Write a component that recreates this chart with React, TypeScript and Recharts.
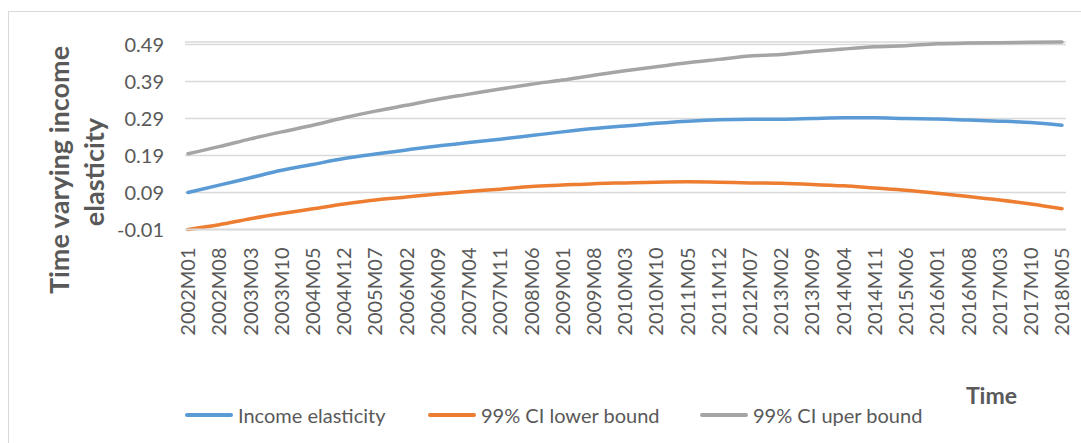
import React from 'react';
import { LineChart, Line, XAxis, YAxis, CartesianGrid, Legend } from 'recharts';

const months = ['2002M01','2002M08','2003M03','2003M10','2004M05','2004M12','2005M07','2006M02','2006M09','2007M04','2007M11','2008M06','2009M01','2009M08','2010M03','2010M10','2011M05','2011M12','2012M07','2013M02','2013M09','2014M04','2014M11','2015M06','2016M01','2016M08','2017M03','2017M10','2018M05'];

const incomeElasticity = [0.090,0.110,0.130,0.150,0.166,0.182,0.194,0.205,0.216,0.225,0.234,0.244,0.254,0.263,0.270,0.277,0.283,0.287,0.288,0.288,0.290,0.292,0.292,0.290,0.289,0.286,0.283,0.279,0.272];
const lowerBound = [-0.010,0.003,0.019,0.033,0.046,0.059,0.070,0.078,0.086,0.093,0.099,0.106,0.110,0.114,0.116,0.118,0.119,0.118,0.116,0.115,0.112,0.108,0.102,0.096,0.088,0.079,0.070,0.059,0.046];
const upperBound = [0.195,0.214,0.235,0.254,0.272,0.292,0.310,0.326,0.342,0.356,0.370,0.383,0.394,0.407,0.419,0.430,0.441,0.450,0.459,0.463,0.471,0.478,0.484,0.487,0.492,0.494,0.495,0.496,0.497];

const yTicks = [-0.01, 0.09, 0.19, 0.29, 0.39, 0.49];

const seriesNames = ['Income elasticity', '99% CI lower bound', '99% CI uper bound'];
const seriesColors = ['#5b9bd5', '#ed7d31', '#a5a5a5'];

const yTitleLines = ['Time varying income', 'elasticity'];
const xTitle = 'Time';

const data = months.map((m, i) => ({
  month: m,
  income: incomeElasticity[i],
  lower: lowerBound[i],
  upper: upperBound[i],
}));

const FONT = 'Lato, "Noto Sans", sans-serif';
const TEXT = '#595959';

const XTick = (props: any) => {
  const { x, y, payload } = props;
  return (
    <text
      x={x}
      y={y + 10}
      transform={`rotate(-90, ${x}, ${y + 10})`}
      textAnchor="end"
      dy="0.36em"
      fill={TEXT}
      fontSize={20}
      fontFamily={FONT}
    >
      {payload.value}
    </text>
  );
};

const legendLefts = [185, 428, 700];

const renderLegend = (props: any) => {
  const payload = [...(props.payload || [])].sort(
    (a: any, b: any) => seriesNames.indexOf(a.value) - seriesNames.indexOf(b.value)
  );
  return (
    <div style={{ position: 'relative', width: 1081, height: 443 }}>
      {payload.map((p: any, i: number) => (
        <div
          key={p.value}
          style={{
            position: 'absolute',
            left: legendLefts[i],
            top: 402,
            height: 26,
            display: 'flex',
            alignItems: 'center',
            fontFamily: FONT,
            fontSize: 20,
            color: TEXT,
            whiteSpace: 'nowrap',
          }}
        >
          <span
            style={{
              display: 'inline-block',
              width: 48,
              height: 4,
              borderRadius: 2,
              background: p.color,
              marginRight: 5,
            }}
          />
          <span>{p.value}</span>
        </div>
      ))}
    </div>
  );
};

export default function App() {
  return (
    <div style={{ position: 'relative', width: 1081, height: 443, overflow: 'hidden', background: '#fff' }}>
      <style>{`body{margin:0;overflow:hidden;}`}</style>
      <div
        style={{
          position: 'absolute',
          left: 8,
          top: 11,
          width: 1100,
          height: 500,
          border: '1px solid #d9d9d9',
          boxSizing: 'border-box',
        }}
      />
      <div style={{ position: 'absolute', left: 0, top: 0 }}>
        <LineChart
          width={1081}
          height={443}
          data={data}
          margin={{ top: 42, right: 15, bottom: 38.5, left: 0 }}
        >
          <CartesianGrid vertical={false} stroke="#d9d9d9" strokeWidth={1.5} />
          <XAxis
            dataKey="month"
            interval={0}
            height={175}
            padding={{ left: 3, right: 4 }}
            tick={<XTick />}
            tickLine={false}
            axisLine={{ stroke: '#d9d9d9', strokeWidth: 2 }}
          />
          <YAxis
            width={185}
            domain={[-0.01, 0.49]}
            ticks={yTicks}
            tickFormatter={(v: number) => v.toFixed(2)}
            tickLine={false}
            axisLine={false}
            tickSize={0}
            tickMargin={21}
            tick={{ fill: TEXT, fontSize: 20, fontFamily: FONT }}
          />
          <Legend
            layout="horizontal"
            verticalAlign="middle"
            align="center"
            wrapperStyle={{ position: 'absolute', left: 0, top: 0, width: 1081, height: 443, pointerEvents: 'none' }}
            content={renderLegend}
          />
          <Line
            type="monotone"
            dataKey="income"
            name={seriesNames[0]}
            stroke={seriesColors[0]}
            strokeWidth={3.5}
            strokeLinecap="round"
            dot={false}
            isAnimationActive={false}
          />
          <Line
            type="monotone"
            dataKey="lower"
            name={seriesNames[1]}
            stroke={seriesColors[1]}
            strokeWidth={3.5}
            strokeLinecap="round"
            dot={false}
            isAnimationActive={false}
          />
          <Line
            type="monotone"
            dataKey="upper"
            name={seriesNames[2]}
            stroke={seriesColors[2]}
            strokeWidth={3.5}
            strokeLinecap="round"
            dot={false}
            isAnimationActive={false}
          />
        </LineChart>
      </div>
      <svg
        width={1081}
        height={443}
        style={{ position: 'absolute', left: 0, top: 0, pointerEvents: 'none' }}
      >
        <g fill={TEXT} fontWeight="bold" fontFamily={FONT}>
          <text x={69} y={170} transform="rotate(-90, 69, 170)" textAnchor="middle" fontSize={27}>
            {yTitleLines[0]}
          </text>
          <text x={104} y={172} transform="rotate(-90, 104, 172)" textAnchor="middle" fontSize={27}>
            {yTitleLines[1]}
          </text>
          <text x={1017} y={404} textAnchor="end" fontSize={23}>
            {xTitle}
          </text>
        </g>
      </svg>
    </div>
  );
}
